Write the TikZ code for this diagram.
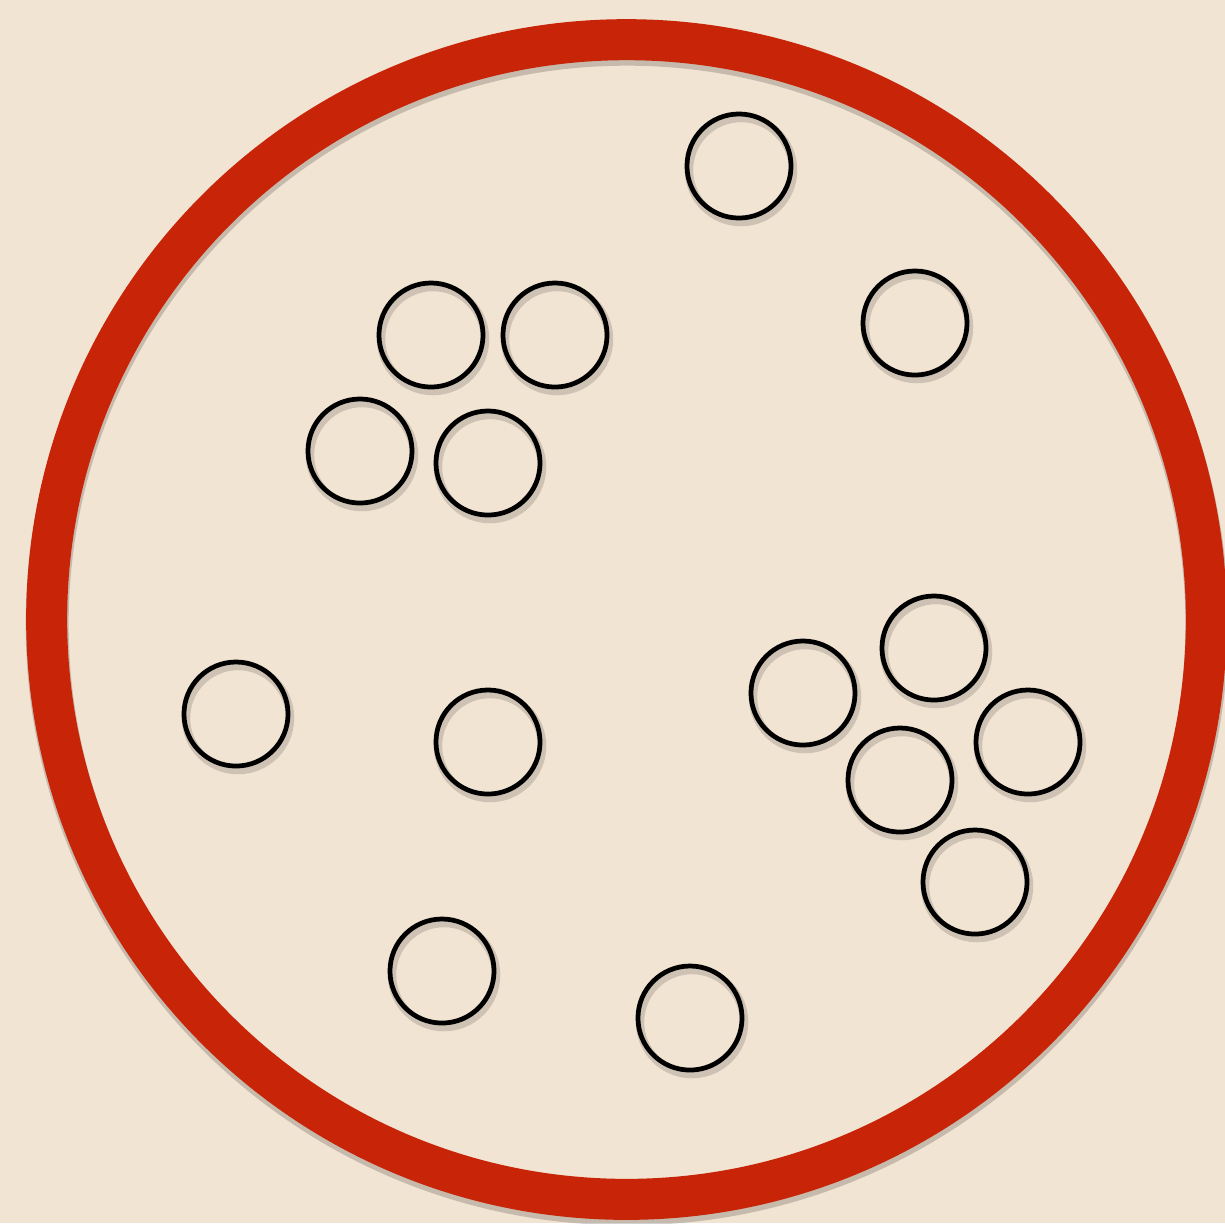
\documentclass[tikz,border=0pt]{standalone}
\usepackage{tikz}
\definecolor{RingRed}{RGB}{200, 36, 8}
\definecolor{WoodBeige}{RGB}{242, 228, 211}
\tikzset{
    dish/.style={circle, draw=RingRed, line width=0.41cm, minimum size=11.59cm, inner sep=0pt},
    dishshadow/.style={circle, draw=black, opacity=0.18, line width=0.43cm, minimum size=11.59cm, inner sep=0pt},
    bead/.style={circle, draw=black, line width=1.35pt, minimum size=1.04cm, inner sep=0pt},
    beadshadow/.style={circle, draw=black, opacity=0.15, line width=2.4pt, minimum size=1.04cm, inner sep=0pt}
}

\begin{document}
\begin{tikzpicture}[x=0.01cm, y=-0.01cm]
    \fill[WoodBeige] (0,0) rectangle (1225,1223);
    \useasboundingbox (0,0) rectangle (1225,1223);
    % the dish
    \node[dishshadow] at (627,624) {};
    \node[dish] (rim) at (626.5,619.5) {};
    % the beads
    \foreach \name/\px/\py in {
        b1/739/166, b2/915/323,
        b3/431/335, b4/555/335, b5/360/451, b6/488/463,
        b7/236/714, b8/488/742,
        b9/803/693, b10/934/648, b11/1028/742, b12/900/780, b13/975/882,
        b14/442/971, b15/690/1018} {
        \node[beadshadow] at (\px+2,\py+4) {};
        \node[bead] (\name) at (\px,\py) {};
    }
\end{tikzpicture}
\end{document}
